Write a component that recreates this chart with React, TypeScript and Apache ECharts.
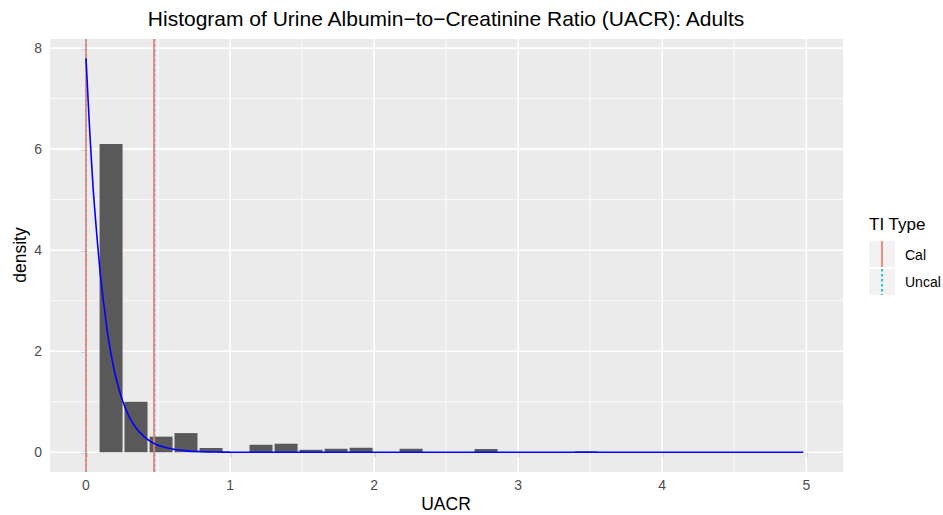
import React, { useEffect, useRef } from "react";
import * as echarts from "echarts";

// ---- data ----
const binWidth = 0.1736;
const binCenters = [0.174, 0.347, 0.521, 0.694, 0.868, 1.042, 1.215, 1.389, 1.562, 1.736, 1.91, 2.083, 2.257, 2.43, 2.604, 2.777, 2.951, 3.125, 3.298, 3.472];
const binDensity = [6.1, 1.0, 0.31, 0.38, 0.085, 0, 0.15, 0.17, 0.05, 0.07, 0.09, 0, 0.07, 0, 0, 0.065, 0, 0, 0, 0.02];

const curveX = [0, 0.025, 0.05, 0.075, 0.1, 0.125, 0.15, 0.175, 0.2, 0.25, 0.3, 0.35, 0.4, 0.45, 0.5, 0.6, 0.7, 0.8, 0.9, 1.0, 1.2, 1.5, 2.0, 3.0, 4.0, 4.98];
const curveY = [7.8, 6.4, 5.2, 4.3, 3.5, 2.9, 2.35, 1.93, 1.57, 1.05, 0.7, 0.47, 0.32, 0.21, 0.14, 0.064, 0.029, 0.013, 0.006, 0.003, 0.0005, 0, 0, 0, 0, 0];

const calLines = [0, 0.472];
const uncalLines = [0, 0.479];

const xTicks = [0, 1, 2, 3, 4, 5];
const xMinor = [0.5, 1.5, 2.5, 3.5, 4.5];
const yTicks = [0, 2, 4, 6, 8];
const yMinor = [1, 3, 5, 7];

const titleText = "Histogram of Urine Albumin\u2212to\u2212Creatinine Ratio (UACR): Adults";
const xTitle = "UACR";
const yTitle = "density";
const legendTitle = "TI Type";
const legendLabels = ["Cal", "Uncal"];

const FONT = "Liberation Sans, Arial, Helvetica, sans-serif";
const CAL_COLOR = "#F8766D";
const UNCAL_COLOR = "#00BFC4";

function vGrid(values: number[], width: number, z: number) {
  return {
    type: "custom",
    silent: true,
    z,
    data: values.map((v) => [v, 0]),
    encode: { x: 0, y: 1 },
    renderItem: (params: any, api: any) => {
      const cs = params.coordSys;
      const p = api.coord([api.value(0), 0]);
      return {
        type: "line",
        shape: { x1: p[0], y1: cs.y, x2: p[0], y2: cs.y + cs.height },
        style: { stroke: "#FFFFFF", lineWidth: width },
      };
    },
  };
}

function hGrid(values: number[], width: number, z: number) {
  return {
    type: "custom",
    silent: true,
    z,
    data: values.map((v) => [0, v]),
    encode: { x: 0, y: 1 },
    renderItem: (params: any, api: any) => {
      const cs = params.coordSys;
      const p = api.coord([0, api.value(1)]);
      return {
        type: "line",
        shape: { x1: cs.x, y1: p[1], x2: cs.x + cs.width, y2: p[1] },
        style: { stroke: "#FFFFFF", lineWidth: width },
      };
    },
  };
}

function tiLines(values: number[], color: string, dash: any, width: number, opacity: number, z: number) {
  return {
    type: "custom",
    silent: true,
    z,
    data: values.map((v) => [v, 0]),
    encode: { x: 0, y: 1 },
    renderItem: (params: any, api: any) => {
      const cs = params.coordSys;
      const p = api.coord([api.value(0), 0]);
      return {
        type: "line",
        shape: { x1: p[0], y1: cs.y, x2: p[0], y2: cs.y + cs.height },
        style: { stroke: color, lineWidth: width, lineDash: dash, opacity },
      };
    },
  };
}

export default function App() {
  const ref = useRef<HTMLDivElement>(null);

  useEffect(() => {
    document.body.style.margin = "0";
    if (!ref.current) return;
    const chart = echarts.init(ref.current, undefined, { renderer: "svg" });

    const option: any = {
      animation: false,
      backgroundColor: "#FFFFFF",
      grid: { left: 50, right: 100, top: 39, bottom: 43, show: true, backgroundColor: "#EBEBEB", borderWidth: 0 },
      xAxis: {
        type: "value",
        min: -0.25,
        max: 5.255,
        axisLine: { show: false },
        splitLine: { show: false },
        axisTick: { show: true, length: 5, customValues: xTicks, lineStyle: { color: "#333333", width: 1.3 } },
        axisLabel: {
          color: "#4D4D4D",
          fontSize: 14,
          fontFamily: FONT,
          margin: 6,
          customValues: xTicks,
          formatter: (v: number) => String(v),
        },
      },
      yAxis: {
        type: "value",
        min: -0.39,
        max: 8.18,
        axisLine: { show: false },
        splitLine: { show: false },
        axisTick: { show: true, length: 5, customValues: yTicks, lineStyle: { color: "#333333", width: 1.3 } },
        axisLabel: {
          color: "#4D4D4D",
          fontSize: 14,
          fontFamily: FONT,
          margin: 8,
          customValues: yTicks,
          formatter: (v: number) => String(v),
        },
      },
      series: [
        hGrid(yMinor, 0.8, 1),
        vGrid(xMinor, 0.8, 1),
        hGrid(yTicks, 1.6, 1),
        vGrid(xTicks, 1.6, 1),
        {
          type: "custom",
          silent: true,
          z: 2,
          data: binCenters.map((c, i) => [c, binDensity[i]]),
          encode: { x: 0, y: 1 },
          renderItem: (params: any, api: any) => {
            const c = api.value(0);
            const h = api.value(1);
            if (!h) return { type: "group", children: [] };
            const a = api.coord([c - binWidth / 2, 0]);
            const b = api.coord([c + binWidth / 2, h]);
            return {
              type: "rect",
              shape: { x: a[0] + 1, y: b[1], width: b[0] - a[0] - 2, height: a[1] - b[1] },
              style: { fill: "#595959" },
            };
          },
        },
        tiLines(calLines, CAL_COLOR, null, 1.7, 1, 3),
        tiLines(uncalLines, UNCAL_COLOR, [2.5, 2.5], 1.1, 0.55, 3),
        {
          type: "line",
          silent: true,
          z: 4,
          showSymbol: false,
          symbol: "none",
          smooth: 0.2,
          data: curveX.map((x, i) => [x, curveY[i]]),
          lineStyle: { color: "#0000FF", width: 1.6 },
        },
      ],
      graphic: [
        {
          type: "text",
          x: 446,
          y: 18,
          style: { text: titleText, fontSize: 21, fontFamily: FONT, fill: "#000000", align: "center", verticalAlign: "middle" },
        },
        {
          type: "text",
          x: 446,
          y: 504,
          style: { text: xTitle, fontSize: 17.5, fontFamily: FONT, fill: "#000000", align: "center", verticalAlign: "middle" },
        },
        {
          type: "text",
          x: 20,
          y: 255,
          rotation: Math.PI / 2,
          style: { text: yTitle, fontSize: 17.5, fontFamily: FONT, fill: "#000000", align: "center", verticalAlign: "middle" },
        },
        {
          type: "text",
          x: 869,
          y: 224,
          style: { text: legendTitle, fontSize: 17, fontFamily: FONT, fill: "#000000", align: "left", verticalAlign: "middle" },
        },
        { type: "rect", shape: { x: 869, y: 241, width: 26, height: 26 }, style: { fill: "#F2F2F2" } },
        { type: "rect", shape: { x: 869, y: 269, width: 26, height: 26 }, style: { fill: "#F2F2F2" } },
        { type: "line", shape: { x1: 882, y1: 241, x2: 882, y2: 267 }, style: { stroke: CAL_COLOR, lineWidth: 1.7 } },
        { type: "line", shape: { x1: 882, y1: 269, x2: 882, y2: 295 }, style: { stroke: UNCAL_COLOR, lineWidth: 1.7, lineDash: [2.5, 2.5] } },
        {
          type: "text",
          x: 905,
          y: 255,
          style: { text: legendLabels[0], fontSize: 14, fontFamily: FONT, fill: "#000000", align: "left", verticalAlign: "middle" },
        },
        {
          type: "text",
          x: 905,
          y: 282,
          style: { text: legendLabels[1], fontSize: 14, fontFamily: FONT, fill: "#000000", align: "left", verticalAlign: "middle" },
        },
      ],
    };

    chart.setOption(option);
    return () => chart.dispose();
  }, []);

  return <div ref={ref} style={{ width: 943, height: 515 }} />;
}
